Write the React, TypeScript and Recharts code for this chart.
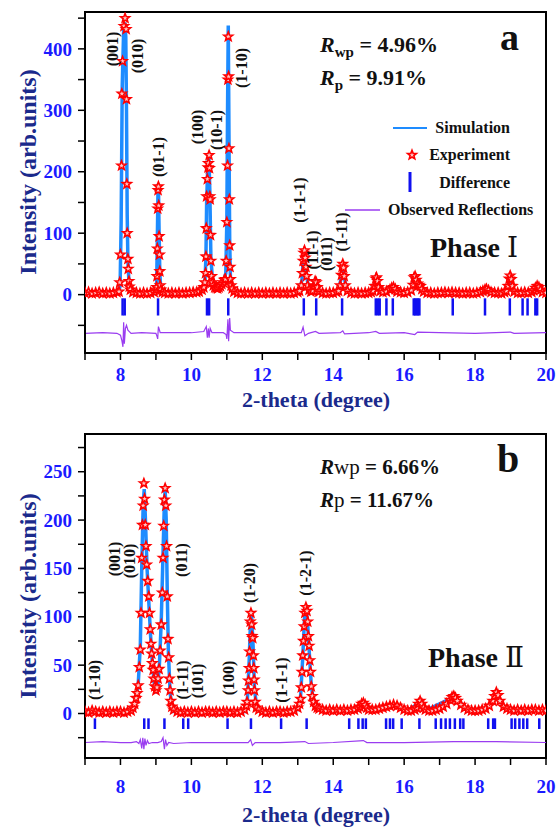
import React from "react";
import { ComposedChart, Line, Scatter, XAxis, YAxis, ReferenceLine, ReferenceArea } from "recharts";

// panel a (phase I)
const obsA: [number, number][] = [
  [7.0, 3], [7.1, 4], [7.2, 2], [7.3, 3], [7.4, 4], [7.5, 2], [7.6, 3], [7.7, 2], [7.8, 3], [7.9, 4],
  [7.96, 5], [7.98, 20], [8.0, 65], [8.03, 210], [8.04, 327], [8.06, 380], [8.1, 437], [8.13, 450], [8.16, 432], [8.17, 318], [8.18, 180], [8.19, 100], [8.21, 58], [8.22, 42], [8.24, 22], [8.25, 13], [8.28, 8],
  [8.35, 4], [8.45, 3], [8.55, 2], [8.65, 3], [8.75, 2], [8.85, 3], [8.95, 4],
  [9.0, 8], [9.02, 12], [9.03, 30], [9.04, 75], [9.05, 140], [9.06, 170], [9.07, 176], [9.08, 145], [9.09, 95], [9.1, 65], [9.11, 38], [9.12, 15], [9.14, 8], [9.18, 4],
  [9.25, 3], [9.35, 2], [9.45, 3], [9.55, 2], [9.65, 3], [9.75, 2], [9.85, 3], [9.95, 3], [10.05, 4], [10.15, 4], [10.22, 5],
  [10.3, 8], [10.35, 12], [10.38, 20], [10.4, 35], [10.41, 62], [10.42, 108], [10.43, 160], [10.45, 188], [10.47, 207], [10.48, 214], [10.5, 227], [10.51, 206], [10.52, 160], [10.53, 155], [10.54, 97], [10.55, 55], [10.57, 30], [10.59, 20], [10.62, 15], [10.66, 12], [10.7, 11], [10.74, 10], [10.78, 12], [10.82, 14], [10.86, 17], [10.9, 20], [10.93, 24],
  [10.96, 25], [10.98, 55], [11.0, 118], [11.02, 210], [11.03, 350], [11.04, 420], [11.05, 355], [11.06, 238], [11.07, 155], [11.08, 80], [11.09, 45], [11.1, 25], [11.12, 15], [11.15, 10], [11.2, 5],
  [11.3, 3], [11.4, 2], [11.5, 3], [11.6, 2], [11.7, 3], [11.8, 2], [11.9, 3], [12.0, 2], [12.1, 3], [12.2, 2], [12.3, 3], [12.4, 2], [12.5, 3], [12.6, 2], [12.7, 3], [12.8, 2], [12.9, 3], [13.0, 4],
  [13.05, 6], [13.1, 15], [13.13, 35], [13.15, 55], [13.17, 68], [13.19, 72], [13.21, 60], [13.23, 45], [13.25, 30], [13.28, 15], [13.32, 8], [13.37, 5],
  [13.42, 6], [13.46, 14], [13.49, 22], [13.52, 20], [13.55, 12], [13.6, 5],
  [13.7, 3], [13.8, 2], [13.9, 3], [14.0, 3], [14.1, 4],
  [14.15, 6], [14.2, 15], [14.23, 32], [14.25, 45], [14.27, 50], [14.29, 44], [14.31, 30], [14.34, 15], [14.4, 6],
  [14.5, 3], [14.6, 2], [14.7, 3], [14.8, 2], [14.9, 3], [15.0, 3], [15.07, 4],
  [15.12, 6], [15.17, 14], [15.2, 26], [15.22, 28], [15.25, 22], [15.28, 12], [15.33, 6],
  [15.4, 4], [15.5, 5], [15.6, 8], [15.65, 11], [15.7, 12], [15.75, 9], [15.8, 5], [15.9, 4], [16.0, 3], [16.1, 4],
  [16.2, 7], [16.25, 16], [16.28, 28], [16.31, 30], [16.34, 24], [16.38, 18], [16.42, 16], [16.46, 14], [16.5, 9], [16.55, 5],
  [16.65, 3], [16.75, 3], [16.85, 2], [16.95, 3], [17.05, 3], [17.15, 4], [17.25, 3], [17.35, 4], [17.45, 3], [17.55, 3], [17.65, 2], [17.75, 3], [17.85, 3], [17.95, 2], [18.05, 3], [18.15, 4],
  [18.22, 6], [18.28, 8], [18.32, 9], [18.38, 7], [18.45, 4], [18.55, 3], [18.65, 3], [18.75, 2], [18.83, 4],
  [18.88, 6], [18.93, 14], [18.96, 26], [18.99, 31], [19.02, 25], [19.05, 14], [19.1, 5],
  [19.2, 3], [19.3, 3], [19.4, 4], [19.5, 3], [19.6, 4],
  [19.65, 7], [19.7, 11], [19.75, 14], [19.8, 12], [19.85, 8], [19.9, 4], [20.0, 3],
];

const simA: [number, number][] = [
  [7, 2], [7.95, 2], [7.99, 15], [8.02, 120], [8.05, 340], [8.09, 430], [8.12, 443], [8.15, 420], [8.17, 300], [8.19, 130], [8.21, 55], [8.24, 20], [8.28, 6], [8.35, 2],
  [8.98, 2], [9.02, 15], [9.04, 90], [9.06, 175], [9.07, 180], [9.09, 100], [9.11, 35], [9.14, 6], [9.2, 2],
  [10.3, 5], [10.38, 18], [10.41, 60], [10.43, 150], [10.46, 205], [10.49, 230], [10.52, 170], [10.55, 60], [10.6, 20], [10.7, 11], [10.8, 13], [10.9, 20], [10.97, 35],
  [11.0, 120], [11.02, 300], [11.04, 438], [11.06, 260], [11.08, 90], [11.1, 30], [11.15, 8], [11.25, 2],
  [13.05, 3], [13.12, 25], [13.16, 62], [13.19, 70], [13.23, 42], [13.3, 10], [13.4, 6], [13.48, 18], [13.5, 20], [13.55, 10], [13.65, 2],
  [14.15, 3], [14.22, 28], [14.27, 48], [14.32, 25], [14.4, 4],
  [15.1, 3], [15.2, 24], [15.23, 26], [15.3, 8], [15.4, 3], [15.6, 7], [15.7, 11], [15.8, 4],
  [16.2, 5], [16.27, 25], [16.31, 28], [16.38, 17], [16.45, 14], [16.55, 3],
  [18.25, 3], [18.31, 8], [18.4, 3],
  [18.9, 4], [18.96, 25], [18.99, 29], [19.03, 20], [19.1, 4],
  [19.65, 4], [19.72, 12], [19.76, 13], [19.85, 5], [20, 2],
];

const diffA: [number, number][] = [
  [7, -63], [7.5, -62], [7.9, -63], [8.0, -66], [8.04, -75], [8.07, -85], [8.09, -45], [8.11, -80], [8.14, -55], [8.17, -50], [8.21, -58], [8.3, -63],
  [8.6, -62], [9.0, -63], [9.03, -68], [9.05, -72], [9.07, -52], [9.09, -56], [9.12, -62], [9.3, -62],
  [10.0, -62], [10.35, -60], [10.42, -52], [10.45, -70], [10.48, -55], [10.5, -70], [10.53, -55], [10.58, -62],
  [10.9, -62], [10.98, -65], [11.0, -72], [11.03, -40], [11.05, -76], [11.08, -38], [11.1, -58], [11.2, -62],
  [12.0, -62], [13.1, -62], [13.15, -53], [13.2, -67], [13.3, -63], [13.5, -60], [13.6, -63],
  [14.2, -62], [14.27, -59], [14.32, -64], [15.0, -62], [15.2, -60], [15.3, -63], [16.0, -62], [16.3, -65], [16.38, -61],
  [17.0, -62], [18.0, -63], [19.0, -61], [19.1, -63], [20, -62],
];

const braggA = [8.06, 8.12, 9.06, 10.44, 10.5, 11.04, 13.17, 13.52, 14.25, 15.2, 15.26, 15.31, 15.5, 15.68,
  16.27, 16.31, 16.35, 16.39, 16.43, 17.37, 18.28, 18.98, 19.34, 19.48, 19.7, 19.75];

// panel b (phase II)
const obsB: [number, number][] = [
  [7.0, 2], [7.1, 1], [7.2, 3], [7.3, 2], [7.4, 1], [7.5, 2], [7.6, 1], [7.7, 2], [7.8, 1], [7.9, 2], [8.0, 2], [8.1, 1], [8.2, 2], [8.3, 3],
  [8.35, 6], [8.4, 10], [8.44, 16], [8.47, 21], [8.5, 29], [8.53, 48], [8.56, 66], [8.58, 104], [8.6, 161], [8.62, 195], [8.64, 215], [8.66, 238], [8.68, 222], [8.7, 195], [8.72, 173], [8.74, 154],
  [8.77, 137], [8.8, 121], [8.82, 104], [8.84, 87], [8.86, 72], [8.88, 62], [8.9, 52], [8.92, 45], [8.94, 36], [8.97, 28], [9.0, 24], [9.03, 27], [9.06, 36], [9.09, 46],
  [9.12, 65], [9.15, 92], [9.18, 125], [9.2, 161], [9.22, 194], [9.24, 221], [9.26, 233], [9.28, 215], [9.3, 173], [9.32, 121], [9.34, 77], [9.36, 58], [9.38, 36], [9.4, 24], [9.42, 13], [9.45, 7], [9.5, 4],
  [9.6, 2], [9.7, 1], [9.8, 2], [9.9, 1], [10.0, 2], [10.1, 1], [10.2, 2], [10.3, 1], [10.4, 2], [10.5, 2], [10.6, 1], [10.7, 2], [10.8, 1], [10.9, 2], [11.0, 2], [11.1, 1], [11.2, 2], [11.3, 1], [11.4, 2],
  [11.5, 4], [11.55, 8], [11.57, 12], [11.6, 24], [11.61, 34], [11.63, 47], [11.64, 64], [11.66, 95], [11.68, 104], [11.7, 92], [11.71, 80], [11.73, 78], [11.75, 60], [11.76, 47], [11.77, 35], [11.78, 24], [11.8, 12], [11.83, 6], [11.9, 4],
  [12.0, 2], [12.1, 1], [12.2, 2], [12.3, 1], [12.4, 2], [12.5, 2], [12.6, 1], [12.7, 2], [12.8, 2], [12.9, 3],
  [13.0, 6], [13.05, 10], [13.08, 15], [13.1, 27], [13.12, 43], [13.14, 60], [13.16, 75], [13.18, 90], [13.2, 104], [13.23, 110], [13.26, 106], [13.28, 95], [13.3, 80], [13.32, 70],
  [13.34, 55], [13.36, 43], [13.38, 28], [13.41, 18], [13.45, 12], [13.5, 8], [13.55, 6], [13.6, 5],
  [13.7, 4], [13.8, 3], [13.9, 4], [14.0, 3], [14.1, 4], [14.2, 3], [14.3, 4], [14.4, 3], [14.5, 4], [14.6, 4], [14.7, 5], [14.75, 7], [14.8, 10], [14.85, 11], [14.9, 9], [14.95, 6],
  [15.0, 4], [15.1, 4], [15.2, 4], [15.3, 5], [15.4, 6], [15.5, 7], [15.6, 8], [15.7, 9], [15.8, 8], [15.9, 6], [16.0, 4], [16.1, 3], [16.2, 3], [16.3, 4],
  [16.35, 6], [16.4, 10], [16.45, 13], [16.5, 10], [16.55, 6], [16.6, 4], [16.7, 3], [16.8, 3], [16.9, 4], [17.0, 5], [17.1, 7], [17.2, 10], [17.3, 14], [17.35, 17], [17.4, 18], [17.45, 16],
  [17.5, 13], [17.6, 9], [17.7, 6], [17.8, 4], [17.9, 3], [18.0, 3], [18.1, 3], [18.2, 4], [18.3, 5], [18.4, 8], [18.5, 13], [18.55, 18], [18.6, 22], [18.65, 19], [18.7, 13], [18.8, 7],
  [18.9, 5], [19.0, 4], [19.1, 3], [19.2, 4], [19.3, 3], [19.4, 4], [19.5, 3], [19.6, 4], [19.7, 4], [19.8, 3], [19.9, 4], [20.0, 3],
];

const simB: [number, number][] = [
  [7, 1], [8.3, 2], [8.4, 6], [8.5, 30], [8.56, 70], [8.6, 150], [8.64, 215], [8.67, 232], [8.7, 205], [8.75, 150], [8.8, 115], [8.85, 80], [8.9, 52], [8.95, 32],
  [9.0, 21], [9.05, 28], [9.1, 52], [9.15, 95], [9.2, 165], [9.24, 220], [9.26, 232], [9.29, 200], [9.32, 125], [9.35, 65], [9.4, 22], [9.45, 6], [9.5, 2],
  [11.5, 2], [11.58, 15], [11.63, 55], [11.67, 98], [11.7, 100], [11.74, 70], [11.78, 25], [11.85, 4], [11.95, 2],
  [13.0, 4], [13.08, 18], [13.14, 58], [13.19, 98], [13.24, 108], [13.28, 92], [13.33, 60], [13.38, 30], [13.45, 10], [13.55, 4],
  [14.7, 4], [14.85, 10], [15.0, 4], [15.7, 8], [16.1, 3], [16.45, 12], [16.6, 3], [17.4, 17], [17.8, 4], [18.3, 4], [18.6, 20], [18.85, 5], [20, 3],
];

const diffB: [number, number][] = [
  [7, -30], [7.5, -29], [8.0, -30], [8.3, -30], [8.45, -29], [8.52, -31], [8.56, -27], [8.6, -36], [8.63, -25], [8.66, -37], [8.69, -26], [8.72, -33], [8.76, -28], [8.8, -31],
  [8.9, -30], [9.05, -30], [9.15, -29], [9.2, -25], [9.24, -37], [9.27, -27], [9.31, -33], [9.36, -30], [9.5, -31], [10.0, -30], [11.0, -30],
  [11.6, -30], [11.67, -27], [11.72, -33], [11.8, -30], [12.5, -30], [13.2, -29], [13.3, -31], [14, -30], [14.85, -28], [14.95, -30],
  [16, -30], [17.4, -29], [18.6, -29], [20, -30],
];

const braggB = [7.28, 8.67, 8.79, 9.24, 9.77, 9.91, 11.02, 11.68, 12.53, 13.25, 14.45, 14.71, 14.83, 14.92, 15.49, 15.6, 15.69, 15.93,
  16.43, 16.89, 17.04, 17.17, 17.29, 17.43, 17.58, 17.67, 18.37, 18.51, 18.56, 19.03, 19.13, 19.25, 19.36, 19.47, 19.81];

const xTicks = [7, 8, 9, 10, 11, 12, 13, 14, 15, 16, 17, 18, 19, 20];
const xLabels = [8, 10, 12, 14, 16, 18, 20];
const yTicksA = [-50, 0, 50, 100, 150, 200, 250, 300, 350, 400, 450];
const yLabelsA = [0, 100, 200, 300, 400];
const yTicksB = [-25, 0, 25, 50, 75, 100, 125, 150, 175, 200, 225, 250, 275];
const yLabelsB = [0, 50, 100, 150, 200, 250];

const hklA = [
  { t: "(001)", x: 112, y: 49 }, { t: "(010)", x: 137, y: 56 }, { t: "(01-1)", x: 158, y: 157 },
  { t: "(100)", x: 197, y: 127 }, { t: "(10-1)", x: 216, y: 130 }, { t: "(1-10)", x: 241, y: 68 },
  { t: "(1-1-1)", x: 299, y: 200 }, { t: "(11-1)", x: 312, y: 250 }, { t: "(011)", x: 326, y: 254 }, { t: "(1-11)", x: 341, y: 232 },
];
const hklB = [
  { t: "(1-10)", x: 94, y: 680 }, { t: "(001)", x: 114, y: 559 }, { t: "(010)", x: 129, y: 561 }, { t: "(011)", x: 181, y: 560 },
  { t: "(1-11)", x: 182, y: 680 }, { t: "(101)", x: 197, y: 681 }, { t: "(100)", x: 228, y: 678 },
  { t: "(1-20)", x: 249, y: 583 }, { t: "(1-1-1)", x: 281, y: 680 }, { t: "(1-2-1)", x: 305, y: 573 },
];

const SERIF = '"Liberation Serif", "Times New Roman", serif';
const TICK_BLUE = "#1a1aff";
const TITLE_BLUE = "#1b2a8c";
const SIM_BLUE = "#1e8cff";
const BAR_BLUE = "#1010f0";
const PURPLE = "#9a3cf0";

const starPoints = (cx: number, cy: number, ro = 4.7, ri = 2.0) => {
  const pts: string[] = [];
  for (let i = 0; i < 10; i++) {
    const a = ((-90 + i * 36) * Math.PI) / 180;
    const r = i % 2 ? ri : ro;
    pts.push(`${cx + r * Math.cos(a)},${cy + r * Math.sin(a)}`);
  }
  return pts.join(" ");
};

const StarMark = (p: any) => (
  <polygon points={starPoints(p.cx, p.cy)} fill="#ffc4c4" stroke="#ff0000" strokeWidth={1.6} />
);

const toXY = (arr: [number, number][]) => arr.map(([x, y]) => ({ x, y }));

function Panel({ obs, sim, diff, bragg, yDomain, yTicks, yLabels, barY, height, top, xTickMargin }: any) {
  const xTick = (p: any) =>
    xLabels.includes(p.payload.value) ? (
      <text x={p.x} y={p.y} dy="0.71em" textAnchor="middle" fontSize={19} fontWeight="bold" fontFamily={SERIF} fill={TICK_BLUE}>
        {p.payload.value}
      </text>
    ) : (
      <g />
    );
  const yTick = (p: any) =>
    yLabels.includes(p.payload.value) ? (
      <text x={p.x} y={p.y} dy="0.35em" textAnchor="end" fontSize={19} fontWeight="bold" fontFamily={SERIF} fill={TICK_BLUE}>
        {p.payload.value}
      </text>
    ) : (
      <g />
    );
  return (
    <ComposedChart width={556} height={height} margin={{ top, right: 10, bottom: 0, left: 0 }}>
      <XAxis
        dataKey="x"
        type="number"
        domain={[7, 20]}
        ticks={xTicks}
        interval={0}
        allowDataOverflow
        height={height === 420 ? 67 : 70}
        tickSize={7}
        tickMargin={xTickMargin}
        axisLine={{ stroke: "#000", strokeWidth: 2 }}
        tickLine={{ stroke: "#000", strokeWidth: 1.5 }}
        tick={xTick}
      />
      <YAxis
        dataKey="y"
        type="number"
        domain={yDomain}
        ticks={yTicks}
        interval={0}
        allowDataOverflow
        width={85}
        tickSize={7}
        tickMargin={6}
        axisLine={{ stroke: "#000", strokeWidth: 2 }}
        tickLine={{ stroke: "#000", strokeWidth: 1.5 }}
        tick={yTick}
      />
      <ReferenceArea x1={7} x2={20} y1={yDomain[0]} y2={yDomain[1]} fill="none" stroke="#000" strokeWidth={2} ifOverflow="visible" />
      {bragg.map((b: number) => (
        <ReferenceLine key={b} segment={[{ x: b, y: barY[0] }, { x: b, y: barY[1] }]} stroke={BAR_BLUE} strokeWidth={2.5} />
      ))}
      <Line data={toXY(diff)} dataKey="y" type="linear" stroke={PURPLE} strokeWidth={1.2} dot={false} isAnimationActive={false} />
      <Line data={toXY(sim)} dataKey="y" type="linear" stroke={SIM_BLUE} strokeWidth={3.5} dot={false} isAnimationActive={false} />
      <Scatter data={toXY(obs)} dataKey="y" shape={StarMark} isAnimationActive={false} />
    </ComposedChart>
  );
}

const rotLabel = (l: { t: string; x: number; y: number }) => (
  <text
    key={l.t + l.x}
    transform={`translate(${l.x},${l.y}) rotate(-90)`}
    textAnchor="middle"
    dominantBaseline="central"
    fontSize={16}
    fontWeight="bold"
    fontFamily={SERIF}
    fill="#111"
  >
    {l.t}
  </text>
);

export default function App() {
  return (
    <div style={{ position: "absolute", left: 0, top: 0, width: 556, height: 828, background: "#fff" }}>
      <div style={{ position: "absolute", left: 0, top: 0 }}>
        <Panel obs={obsA} sim={simA} diff={diffA} bragg={braggA} yDomain={[-95, 460]} yTicks={yTicksA} yLabels={yLabelsA}
          barY={[-6, -34]} height={420} top={12} xTickMargin={8} />
      </div>
      <div style={{ position: "absolute", left: 0, top: 420 }}>
        <Panel obs={obsB} sim={simB} diff={diffB} bragg={braggB} yDomain={[-46, 289]} yTicks={yTicksB} yLabels={yLabelsB}
          barY={[-5, -16]} height={408} top={14} xTickMargin={15} />
      </div>
      <svg width={556} height={828} style={{ position: "absolute", left: 0, top: 0, pointerEvents: "none" }} fontFamily={SERIF}>
        {/* axis titles */}
        <text transform="translate(28,172) rotate(-90)" textAnchor="middle" dominantBaseline="central" fontSize={24} fontWeight="bold" fill={TITLE_BLUE}>
          Intensity (arb.units)
        </text>
        <text transform="translate(28,596) rotate(-90)" textAnchor="middle" dominantBaseline="central" fontSize={24} fontWeight="bold" fill={TITLE_BLUE}>
          Intensity (arb.units)
        </text>
        <text x={316} y={407} textAnchor="middle" fontSize={22} fontWeight="bold" fill={TITLE_BLUE}>2-theta (degree)</text>
        <text x={316} y={822} textAnchor="middle" fontSize={22} fontWeight="bold" fill={TITLE_BLUE}>2-theta (degree)</text>

        {/* panel a texts */}
        <text x={320} y={52} fontSize={22} fontWeight="bold" fill="#111">
          <tspan fontStyle="italic">R</tspan>
          <tspan fontSize={15} dy={5}>wp</tspan>
          <tspan dy={-5}> = 4.96%</tspan>
        </text>
        <text x={320} y={85} fontSize={22} fontWeight="bold" fill="#111">
          <tspan fontStyle="italic">R</tspan>
          <tspan fontSize={15} dy={5}>p</tspan>
          <tspan dy={-5}> = 9.91%</tspan>
        </text>
        <text x={500} y={50} fontSize={38} fontWeight="bold" fill="#111">a</text>
        <text x={430} y={257} fontSize={28} fontWeight="bold" fill="#111">
          Phase <tspan fontFamily='"DejaVu Serif", serif' fontWeight="normal">Ⅰ</tspan>
        </text>

        {/* legend */}
        <line x1={393} x2={427} y1={128} y2={128} stroke={SIM_BLUE} strokeWidth={2} />
        <text x={510} y={133} textAnchor="end" fontSize={16} fontWeight="bold" fill="#111">Simulation</text>
        <polygon points={starPoints(412, 155)} fill="#ffc4c4" stroke="#ff0000" strokeWidth={1.6} />
        <text x={510} y={160} textAnchor="end" fontSize={16} fontWeight="bold" fill="#111">Experiment</text>
        <line x1={410} x2={410} y1={172} y2={192} stroke={BAR_BLUE} strokeWidth={3} />
        <text x={510} y={188} textAnchor="end" fontSize={16} fontWeight="bold" fill="#111">Difference</text>
        <line x1={345} x2={380} y1={210} y2={210} stroke={PURPLE} strokeWidth={1.5} />
        <text x={388} y={215} fontSize={16} fontWeight="bold" fill="#111">Observed Reflections</text>

        {/* panel b texts */}
        <text x={320} y={474} fontSize={21} fontWeight="bold" fill="#111">
          <tspan fontStyle="italic">R</tspan>
          <tspan fontWeight="normal">wp</tspan>
          <tspan> = 6.66%</tspan>
        </text>
        <text x={320} y={507} fontSize={21} fontWeight="bold" fill="#111">
          <tspan fontStyle="italic">R</tspan>
          <tspan fontWeight="normal">p</tspan>
          <tspan> = 11.67%</tspan>
        </text>
        <text x={497} y={472} fontSize={40} fontWeight="bold" fill="#111">b</text>
        <text x={428} y={667} fontSize={28} fontWeight="bold" fill="#111">
          Phase <tspan fontFamily='"DejaVu Serif", serif' fontWeight="normal">Ⅱ</tspan>
        </text>

        {hklA.map(rotLabel)}
        {hklB.map(rotLabel)}
      </svg>
    </div>
  );
}
